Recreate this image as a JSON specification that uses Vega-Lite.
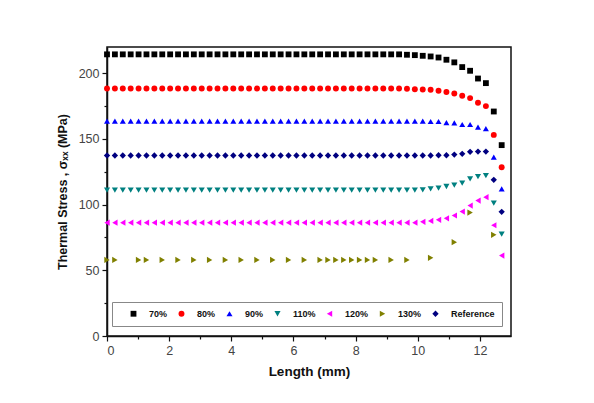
{
"$schema": "https://vega.github.io/schema/vega-lite/v6.json",
"autosize": {"type": "none"},
"padding": {"left": 107, "top": 47, "right": 83, "bottom": 67},
"width": 404,
"height": 289,
"background": "white",
"data": {"values": [
{"s":"70%","x":0,"y":214.4},{"s":"70%","x":0.254,"y":214.4},{"s":"70%","x":0.508,"y":214.4},{"s":"70%","x":0.762,"y":214.4},{"s":"70%","x":1.016,"y":214.4},{"s":"70%","x":1.27,"y":214.4},{"s":"70%","x":1.524,"y":214.4},{"s":"70%","x":1.778,"y":214.4},{"s":"70%","x":2.032,"y":214.4},{"s":"70%","x":2.286,"y":214.4},{"s":"70%","x":2.54,"y":214.4},{"s":"70%","x":2.794,"y":214.4},{"s":"70%","x":3.048,"y":214.4},{"s":"70%","x":3.302,"y":214.4},{"s":"70%","x":3.556,"y":214.4},{"s":"70%","x":3.81,"y":214.4},{"s":"70%","x":4.064,"y":214.4},{"s":"70%","x":4.318,"y":214.4},{"s":"70%","x":4.572,"y":214.4},{"s":"70%","x":4.826,"y":214.4},{"s":"70%","x":5.08,"y":214.4},{"s":"70%","x":5.334,"y":214.4},{"s":"70%","x":5.588,"y":214.4},{"s":"70%","x":5.842,"y":214.4},{"s":"70%","x":6.096,"y":214.4},{"s":"70%","x":6.35,"y":214.4},{"s":"70%","x":6.604,"y":214.4},{"s":"70%","x":6.858,"y":214.4},{"s":"70%","x":7.112,"y":214.4},{"s":"70%","x":7.366,"y":214.4},{"s":"70%","x":7.62,"y":214.4},{"s":"70%","x":7.874,"y":214.4},{"s":"70%","x":8.128,"y":214.4},{"s":"70%","x":8.382,"y":214.4},{"s":"70%","x":8.636,"y":214.4},{"s":"70%","x":8.89,"y":214.4},{"s":"70%","x":9.144,"y":214.4},{"s":"70%","x":9.398,"y":214.4},{"s":"70%","x":9.652,"y":214.1},{"s":"70%","x":9.906,"y":213.8},{"s":"70%","x":10.16,"y":213.3},{"s":"70%","x":10.414,"y":212.8},{"s":"70%","x":10.668,"y":212.0},{"s":"70%","x":10.922,"y":210.3},{"s":"70%","x":11.176,"y":208.3},{"s":"70%","x":11.43,"y":204.7},{"s":"70%","x":11.684,"y":201.9},{"s":"70%","x":11.938,"y":196.0},{"s":"70%","x":12.192,"y":192.5},{"s":"70%","x":12.446,"y":170.9},{"s":"70%","x":12.7,"y":145.3},
{"s":"80%","x":0,"y":188.4},{"s":"80%","x":0.254,"y":188.4},{"s":"80%","x":0.508,"y":188.4},{"s":"80%","x":0.762,"y":188.4},{"s":"80%","x":1.016,"y":188.4},{"s":"80%","x":1.27,"y":188.4},{"s":"80%","x":1.524,"y":188.4},{"s":"80%","x":1.778,"y":188.4},{"s":"80%","x":2.032,"y":188.4},{"s":"80%","x":2.286,"y":188.4},{"s":"80%","x":2.54,"y":188.4},{"s":"80%","x":2.794,"y":188.4},{"s":"80%","x":3.048,"y":188.4},{"s":"80%","x":3.302,"y":188.4},{"s":"80%","x":3.556,"y":188.4},{"s":"80%","x":3.81,"y":188.4},{"s":"80%","x":4.064,"y":188.4},{"s":"80%","x":4.318,"y":188.4},{"s":"80%","x":4.572,"y":188.4},{"s":"80%","x":4.826,"y":188.4},{"s":"80%","x":5.08,"y":188.4},{"s":"80%","x":5.334,"y":188.4},{"s":"80%","x":5.588,"y":188.4},{"s":"80%","x":5.842,"y":188.4},{"s":"80%","x":6.096,"y":188.4},{"s":"80%","x":6.35,"y":188.4},{"s":"80%","x":6.604,"y":188.4},{"s":"80%","x":6.858,"y":188.4},{"s":"80%","x":7.112,"y":188.4},{"s":"80%","x":7.366,"y":188.4},{"s":"80%","x":7.62,"y":188.4},{"s":"80%","x":7.874,"y":188.4},{"s":"80%","x":8.128,"y":188.4},{"s":"80%","x":8.382,"y":188.4},{"s":"80%","x":8.636,"y":188.4},{"s":"80%","x":8.89,"y":188.4},{"s":"80%","x":9.144,"y":188.4},{"s":"80%","x":9.398,"y":188.4},{"s":"80%","x":9.652,"y":188.2},{"s":"80%","x":9.906,"y":187.9},{"s":"80%","x":10.16,"y":187.7},{"s":"80%","x":10.414,"y":187.4},{"s":"80%","x":10.668,"y":186.7},{"s":"80%","x":10.922,"y":185.7},{"s":"80%","x":11.176,"y":184.6},{"s":"80%","x":11.43,"y":182.9},{"s":"80%","x":11.684,"y":181.1},{"s":"80%","x":11.938,"y":177.5},{"s":"80%","x":12.192,"y":175.0},{"s":"80%","x":12.446,"y":153.1},{"s":"80%","x":12.7,"y":128.5},
{"s":"90%","x":0,"y":163.5},{"s":"90%","x":0.254,"y":163.5},{"s":"90%","x":0.508,"y":163.5},{"s":"90%","x":0.762,"y":163.5},{"s":"90%","x":1.016,"y":163.5},{"s":"90%","x":1.27,"y":163.5},{"s":"90%","x":1.524,"y":163.5},{"s":"90%","x":1.778,"y":163.5},{"s":"90%","x":2.032,"y":163.5},{"s":"90%","x":2.286,"y":163.5},{"s":"90%","x":2.54,"y":163.5},{"s":"90%","x":2.794,"y":163.5},{"s":"90%","x":3.048,"y":163.5},{"s":"90%","x":3.302,"y":163.5},{"s":"90%","x":3.556,"y":163.5},{"s":"90%","x":3.81,"y":163.5},{"s":"90%","x":4.064,"y":163.5},{"s":"90%","x":4.318,"y":163.5},{"s":"90%","x":4.572,"y":163.5},{"s":"90%","x":4.826,"y":163.5},{"s":"90%","x":5.08,"y":163.5},{"s":"90%","x":5.334,"y":163.5},{"s":"90%","x":5.588,"y":163.5},{"s":"90%","x":5.842,"y":163.5},{"s":"90%","x":6.096,"y":163.5},{"s":"90%","x":6.35,"y":163.5},{"s":"90%","x":6.604,"y":163.5},{"s":"90%","x":6.858,"y":163.5},{"s":"90%","x":7.112,"y":163.5},{"s":"90%","x":7.366,"y":163.5},{"s":"90%","x":7.62,"y":163.5},{"s":"90%","x":7.874,"y":163.5},{"s":"90%","x":8.128,"y":163.5},{"s":"90%","x":8.382,"y":163.5},{"s":"90%","x":8.636,"y":163.5},{"s":"90%","x":8.89,"y":163.5},{"s":"90%","x":9.144,"y":163.5},{"s":"90%","x":9.398,"y":163.5},{"s":"90%","x":9.652,"y":163.5},{"s":"90%","x":9.906,"y":163.5},{"s":"90%","x":10.16,"y":163.5},{"s":"90%","x":10.414,"y":163.3},{"s":"90%","x":10.668,"y":163.3},{"s":"90%","x":10.922,"y":162.5},{"s":"90%","x":11.176,"y":162.3},{"s":"90%","x":11.43,"y":161.0},{"s":"90%","x":11.684,"y":161.0},{"s":"90%","x":11.938,"y":159.0},{"s":"90%","x":12.192,"y":157.9},{"s":"90%","x":12.446,"y":136.1},{"s":"90%","x":12.7,"y":112.0},
{"s":"110%","x":0,"y":111.0},{"s":"110%","x":0.254,"y":111.0},{"s":"110%","x":0.508,"y":111.0},{"s":"110%","x":0.762,"y":111.0},{"s":"110%","x":1.016,"y":111.0},{"s":"110%","x":1.27,"y":111.0},{"s":"110%","x":1.524,"y":111.0},{"s":"110%","x":1.778,"y":111.0},{"s":"110%","x":2.032,"y":111.0},{"s":"110%","x":2.286,"y":111.0},{"s":"110%","x":2.54,"y":111.0},{"s":"110%","x":2.794,"y":111.0},{"s":"110%","x":3.048,"y":111.0},{"s":"110%","x":3.302,"y":111.0},{"s":"110%","x":3.556,"y":111.0},{"s":"110%","x":3.81,"y":111.0},{"s":"110%","x":4.064,"y":111.0},{"s":"110%","x":4.318,"y":111.0},{"s":"110%","x":4.572,"y":111.0},{"s":"110%","x":4.826,"y":111.0},{"s":"110%","x":5.08,"y":111.0},{"s":"110%","x":5.334,"y":111.0},{"s":"110%","x":5.588,"y":111.0},{"s":"110%","x":5.842,"y":111.0},{"s":"110%","x":6.096,"y":111.0},{"s":"110%","x":6.35,"y":111.0},{"s":"110%","x":6.604,"y":111.0},{"s":"110%","x":6.858,"y":111.0},{"s":"110%","x":7.112,"y":111.0},{"s":"110%","x":7.366,"y":111.0},{"s":"110%","x":7.62,"y":111.0},{"s":"110%","x":7.874,"y":111.0},{"s":"110%","x":8.128,"y":111.0},{"s":"110%","x":8.382,"y":111.0},{"s":"110%","x":8.636,"y":111.0},{"s":"110%","x":8.89,"y":111.0},{"s":"110%","x":9.144,"y":111.0},{"s":"110%","x":9.398,"y":111.0},{"s":"110%","x":9.652,"y":111.0},{"s":"110%","x":9.906,"y":111.0},{"s":"110%","x":10.16,"y":111.2},{"s":"110%","x":10.414,"y":112.0},{"s":"110%","x":10.668,"y":112.5},{"s":"110%","x":10.922,"y":113.8},{"s":"110%","x":11.176,"y":114.8},{"s":"110%","x":11.43,"y":116.3},{"s":"110%","x":11.684,"y":119.6},{"s":"110%","x":11.938,"y":121.4},{"s":"110%","x":12.192,"y":122.1},{"s":"110%","x":12.446,"y":101.1},{"s":"110%","x":12.7,"y":77.5},
{"s":"120%","x":0,"y":86.3},{"s":"120%","x":0.254,"y":86.3},{"s":"120%","x":0.508,"y":86.3},{"s":"120%","x":0.762,"y":86.3},{"s":"120%","x":1.016,"y":86.3},{"s":"120%","x":1.27,"y":86.3},{"s":"120%","x":1.524,"y":86.3},{"s":"120%","x":1.778,"y":86.3},{"s":"120%","x":2.032,"y":86.3},{"s":"120%","x":2.286,"y":86.3},{"s":"120%","x":2.54,"y":86.3},{"s":"120%","x":2.794,"y":86.3},{"s":"120%","x":3.048,"y":86.3},{"s":"120%","x":3.302,"y":86.3},{"s":"120%","x":3.556,"y":86.3},{"s":"120%","x":3.81,"y":86.3},{"s":"120%","x":4.064,"y":86.3},{"s":"120%","x":4.318,"y":86.3},{"s":"120%","x":4.572,"y":86.3},{"s":"120%","x":4.826,"y":86.3},{"s":"120%","x":5.08,"y":86.3},{"s":"120%","x":5.334,"y":86.3},{"s":"120%","x":5.588,"y":86.3},{"s":"120%","x":5.842,"y":86.3},{"s":"120%","x":6.096,"y":86.3},{"s":"120%","x":6.35,"y":86.3},{"s":"120%","x":6.604,"y":86.3},{"s":"120%","x":6.858,"y":86.3},{"s":"120%","x":7.112,"y":86.3},{"s":"120%","x":7.366,"y":86.3},{"s":"120%","x":7.62,"y":86.3},{"s":"120%","x":7.874,"y":86.3},{"s":"120%","x":8.128,"y":86.3},{"s":"120%","x":8.382,"y":86.3},{"s":"120%","x":8.636,"y":86.3},{"s":"120%","x":8.89,"y":86.3},{"s":"120%","x":9.144,"y":86.3},{"s":"120%","x":9.398,"y":86.3},{"s":"120%","x":9.652,"y":86.3},{"s":"120%","x":9.906,"y":86.3},{"s":"120%","x":10.16,"y":86.9},{"s":"120%","x":10.414,"y":87.6},{"s":"120%","x":10.668,"y":88.4},{"s":"120%","x":10.922,"y":89.6},{"s":"120%","x":11.176,"y":91.7},{"s":"120%","x":11.43,"y":94.7},{"s":"120%","x":11.684,"y":99.3},{"s":"120%","x":11.938,"y":103.1},{"s":"120%","x":12.192,"y":105.7},{"s":"120%","x":12.446,"y":84.3},{"s":"120%","x":12.7,"y":61.2},
{"s":"130%","x":0,"y":57.9},{"s":"130%","x":0.254,"y":57.9},{"s":"130%","x":1.016,"y":57.9},{"s":"130%","x":1.27,"y":57.9},{"s":"130%","x":1.778,"y":57.9},{"s":"130%","x":2.286,"y":57.9},{"s":"130%","x":2.794,"y":57.9},{"s":"130%","x":3.302,"y":57.9},{"s":"130%","x":3.81,"y":57.9},{"s":"130%","x":4.318,"y":57.9},{"s":"130%","x":4.826,"y":57.9},{"s":"130%","x":5.334,"y":57.9},{"s":"130%","x":5.842,"y":57.9},{"s":"130%","x":6.35,"y":57.9},{"s":"130%","x":6.858,"y":57.9},{"s":"130%","x":7.112,"y":57.9},{"s":"130%","x":7.366,"y":57.9},{"s":"130%","x":7.62,"y":57.9},{"s":"130%","x":7.874,"y":57.9},{"s":"130%","x":8.128,"y":57.9},{"s":"130%","x":8.382,"y":57.9},{"s":"130%","x":8.636,"y":57.9},{"s":"130%","x":9.144,"y":57.9},{"s":"130%","x":9.652,"y":57.9},{"s":"130%","x":10.414,"y":59.5},{"s":"130%","x":11.176,"y":71.4},{"s":"130%","x":11.684,"y":94.0},{"s":"130%","x":12.446,"y":77.0},
{"s":"Reference","x":0,"y":137.4},{"s":"Reference","x":0.254,"y":137.4},{"s":"Reference","x":0.508,"y":137.4},{"s":"Reference","x":0.762,"y":137.4},{"s":"Reference","x":1.016,"y":137.4},{"s":"Reference","x":1.27,"y":137.4},{"s":"Reference","x":1.524,"y":137.4},{"s":"Reference","x":1.778,"y":137.4},{"s":"Reference","x":2.032,"y":137.4},{"s":"Reference","x":2.286,"y":137.4},{"s":"Reference","x":2.54,"y":137.4},{"s":"Reference","x":2.794,"y":137.4},{"s":"Reference","x":3.048,"y":137.4},{"s":"Reference","x":3.302,"y":137.4},{"s":"Reference","x":3.556,"y":137.4},{"s":"Reference","x":3.81,"y":137.4},{"s":"Reference","x":4.064,"y":137.4},{"s":"Reference","x":4.318,"y":137.4},{"s":"Reference","x":4.572,"y":137.4},{"s":"Reference","x":4.826,"y":137.4},{"s":"Reference","x":5.08,"y":137.4},{"s":"Reference","x":5.334,"y":137.4},{"s":"Reference","x":5.588,"y":137.4},{"s":"Reference","x":5.842,"y":137.4},{"s":"Reference","x":6.096,"y":137.4},{"s":"Reference","x":6.35,"y":137.4},{"s":"Reference","x":6.604,"y":137.4},{"s":"Reference","x":6.858,"y":137.4},{"s":"Reference","x":7.112,"y":137.4},{"s":"Reference","x":7.366,"y":137.4},{"s":"Reference","x":7.62,"y":137.4},{"s":"Reference","x":7.874,"y":137.4},{"s":"Reference","x":8.128,"y":137.4},{"s":"Reference","x":8.382,"y":137.4},{"s":"Reference","x":8.636,"y":137.4},{"s":"Reference","x":8.89,"y":137.4},{"s":"Reference","x":9.144,"y":137.4},{"s":"Reference","x":9.398,"y":137.4},{"s":"Reference","x":9.652,"y":137.4},{"s":"Reference","x":9.906,"y":137.4},{"s":"Reference","x":10.16,"y":137.4},{"s":"Reference","x":10.414,"y":137.4},{"s":"Reference","x":10.668,"y":137.6},{"s":"Reference","x":10.922,"y":137.6},{"s":"Reference","x":11.176,"y":138.1},{"s":"Reference","x":11.43,"y":138.7},{"s":"Reference","x":11.684,"y":140.2},{"s":"Reference","x":11.938,"y":140.4},{"s":"Reference","x":12.192,"y":140.4},{"s":"Reference","x":12.446,"y":118.9},{"s":"Reference","x":12.7,"y":94.5}
]},
"mark": {"type": "point", "filled": true, "opacity": 1, "strokeWidth": 0},
"encoding": {
  "x": {"field": "x", "type": "quantitative", "scale": {"domain": [0, 13], "nice": false, "zero": false},
    "axis": {"title": "Length (mm)", "values": [0,1,2,3,4,5,6,7,8,9,10,11,12],
      "labelExpr": "datum.value % 2 === 0 ? datum.label : ''",
      "tickSize": {"condition": {"test": "datum.value % 2 === 0", "value": 5}, "value": 3},
      "labelPadding": 3, "titlePadding": 8}},
  "y": {"field": "y", "type": "quantitative", "scale": {"domain": [0, 220], "nice": false},
    "axis": {"title": "Thermal Stress , σₓₓ (MPa)", "values": [0,25,50,75,100,125,150,175,200],
      "labelExpr": "datum.value % 50 === 0 ? datum.label : ''",
      "tickSize": {"condition": {"test": "datum.value % 50 === 0", "value": 5}, "value": 3},
      "labelPadding": 3, "titlePadding": 9, "titleFontSize": 12.5}},
  "color": {"field": "s", "type": "nominal",
    "scale": {"domain": ["70%","80%","90%","110%","120%","130%","Reference"],
      "range": ["#000000","#ff0000","#0000ff","#008080","#ff00ff","#808000","#000080"]},
    "legend": {"title": " ", "titleOrient": "left", "titlePadding": 10, "orient": "none", "legendX": 5, "legendY": 255,
      "direction": "horizontal", "columns": 7, "padding": 7, "strokeColor": "#888888", "fillColor": "white",
      "labelFont": "Liberation Sans", "labelFontWeight": "bold", "labelFontSize": 9, "labelColor": "#111",
      "labelOffset": 11, "columnPadding": 9, "symbolSize": 50, "symbolStrokeWidth": 0}},
  "shape": {"field": "s", "type": "nominal",
    "scale": {"domain": ["70%","80%","90%","110%","120%","130%","Reference"],
      "range": ["square","circle","triangle-up","triangle-down","triangle-left","triangle-right","diamond"]}},
  "size": {"field": "s", "type": "nominal", "legend": null,
    "scale": {"domain": ["70%","80%","90%","110%","120%","130%","Reference"],
      "range": [34, 40, 62, 62, 62, 62, 50]}}
},
"config": {
  "view": {"stroke": "#111111", "strokeWidth": 1.5},
  "axis": {"grid": false, "domainColor": "#111111", "domainWidth": 1.5, "tickColor": "#111111", "tickWidth": 1.2,
    "labelFont": "Liberation Sans", "labelFontSize": 12.5, "labelColor": "#444444",
    "titleFont": "Liberation Sans", "titleFontSize": 13.5, "titleFontWeight": "bold", "titleColor": "#111111"},
  "legend": {"titleFont": "Liberation Sans", "titleFontSize": 9}
}
}
